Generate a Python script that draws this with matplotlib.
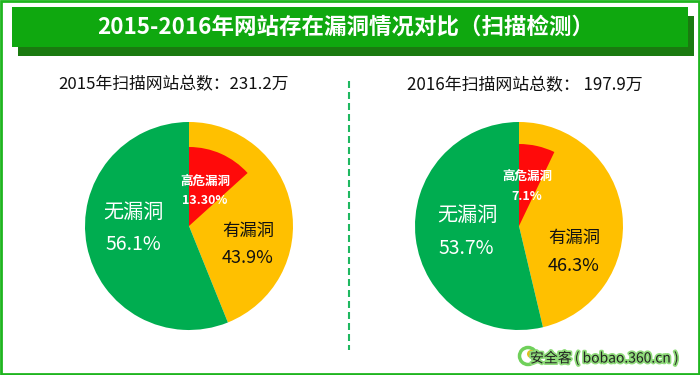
import matplotlib
matplotlib.use('Agg')
import matplotlib.pyplot as plt
import matplotlib.patheffects as pe
from matplotlib.patches import Rectangle, Ellipse

plt.rcParams['font.family'] = ['Noto Sans CJK SC', 'DejaVu Sans']

W, H = 700, 375

title = '2015-2016年网站存在漏洞情况对比（扫描检测）'
sub_2015 = '2015年扫描网站总数：231.2万'
sub_2016 = '2016年扫描网站总数： 197.9万'

# share of sites, clockwise from 12 o'clock
labels = ['有漏洞', '无漏洞']
vals_2015 = [43.9, 56.1]
vals_2016 = [46.3, 53.7]
high_2015 = 13.3
high_2016 = 7.1
high_txt_2015 = '13.30%'
high_txt_2016 = '7.1%'

ORANGE = '#ffc000'
GREEN = '#00ad50'
RED = '#ff0a0a'


def draw_pie(cx, cy, r, r_red, vals, high):
    # pie axes placed in pixel coordinates
    a = fig.add_axes([(cx - r - 1) / W, 1 - (cy + r + 1) / H, (2 * r + 2) / W, (2 * r + 2) / H])
    a.pie(vals, colors=[ORANGE, GREEN], startangle=90, counterclock=False, radius=1.0)
    a.pie([high, 100 - high], colors=[RED, 'none'], startangle=90, counterclock=False, radius=r_red / r)
    a.set_xlim(-(r + 1) / r, (r + 1) / r)
    a.set_ylim(-(r + 1) / r, (r + 1) / r)
    a.set_zorder(1)


fig = plt.figure(figsize=(W / 100, H / 100), dpi=100)
ax = fig.add_axes([0, 0, 1, 1])
ax.set_xlim(0, W)
ax.set_ylim(H, 0)
ax.axis('off')

# outer frame
ax.add_patch(Rectangle((1, 1), W - 2, H - 2, fill=False, ec='#1fb51f', lw=2))

# title bar with its shadow
ax.add_patch(Rectangle((18, 16), 676, 40, fc='#1a7a10', ec='none'))
ax.add_patch(Rectangle((12, 7), 676, 40, fc='#0fa80f', ec='none'))
ax.text(346, 27, title, color='white', fontsize=16.2, fontweight='bold', ha='center', va='center')

ax.text(174, 85, sub_2015, color='#111111', fontsize=12.1, ha='center', va='center')
ax.text(525, 85, sub_2016, color='#111111', fontsize=12.2, ha='center', va='center')

# divider
ax.plot([349, 349], [81, 350], color='#1fb860', lw=1.5, ls=(0, (3.36, 1.92)))

draw_pie(189, 226, 104, 79, vals_2015, high_2015)
draw_pie(519, 226, 104, 82, vals_2016, high_2016)

# labels go on a top overlay so the pies stay below
top = fig.add_axes([0, 0, 1, 1], zorder=5)
top.set_xlim(0, W)
top.set_ylim(H, 0)
top.axis('off')
top.patch.set_alpha(0)

top.text(205, 181, '高危漏洞', color='white', fontsize=9, fontweight='bold', ha='center', va='center')
top.text(205, 201, high_txt_2015, color='white', fontsize=9, fontweight='bold', ha='center', va='center')
top.text(527, 176, '高危漏洞', color='white', fontsize=9, fontweight='bold', ha='center', va='center')
top.text(527, 197, high_txt_2016, color='white', fontsize=9, fontweight='bold', ha='center', va='center')

top.text(133, 212, labels[1], color='white', fontsize=14.5, ha='center', va='center')
top.text(133, 245, '56.1%', color='white', fontsize=14, ha='center', va='center')
top.text(248, 231, labels[0], color='#111111', fontsize=12.5, ha='center', va='center')
top.text(248, 258, '43.9%', color='#111111', fontsize=13, ha='center', va='center')
top.text(467, 215, labels[1], color='white', fontsize=14.5, ha='center', va='center')
top.text(466, 249, '53.7%', color='white', fontsize=14, ha='center', va='center')
top.text(574, 238, labels[0], color='#111111', fontsize=12.5, ha='center', va='center')
top.text(574, 266, '46.3%', color='#111111', fontsize=13, ha='center', va='center')

# watermark
top.add_patch(Ellipse((528, 356), 17, 17, fc='none', ec='#6fd05a', lw=2.5))
top.add_patch(Ellipse((531, 354), 8, 8, fc='#e0c020', ec='none'))
top.text(530, 358, '安全客 ( bobao.360.cn )', color='#222222', fontsize=10, ha='left', va='center',
         path_effects=[pe.withStroke(linewidth=2.5, foreground='#8fdc7a')])

fig.savefig('out.png', dpi=100)
